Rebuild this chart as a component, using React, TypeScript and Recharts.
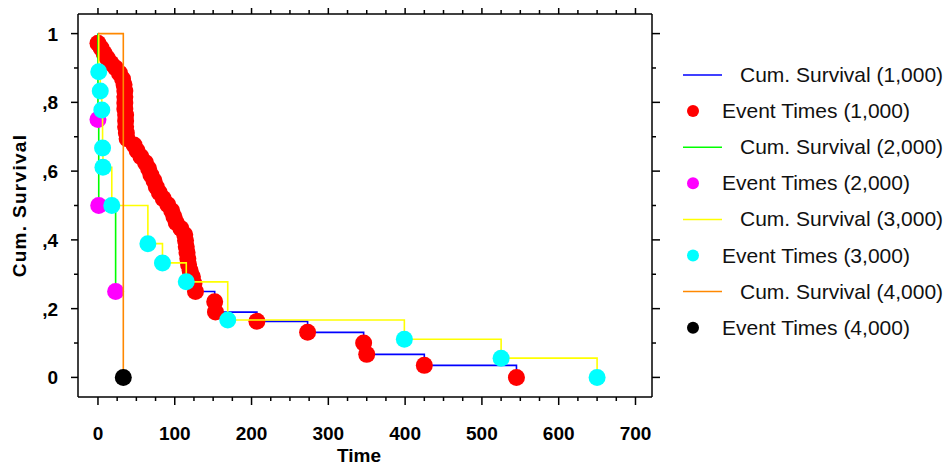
import React from 'react';
import { ComposedChart, Line, Scatter, XAxis, YAxis } from 'recharts';

// Kaplan-Meier steps, one group per pair of arrays
const time1 = [0, 0, 4, 8, 12, 17, 23, 28, 32, 34, 35, 35, 35, 35, 36, 36, 36, 37, 38, 47, 51, 56, 62, 66, 69, 73, 76, 80, 85, 91, 96, 99, 102, 108, 113, 114, 115, 116, 117, 118, 120, 123, 125, 127, 152, 153, 207, 273, 346, 350, 425, 545];
const surv1 = [1, 0.972, 0.958, 0.943, 0.929, 0.914, 0.9, 0.885, 0.868, 0.851, 0.833, 0.816, 0.798, 0.781, 0.763, 0.746, 0.729, 0.711, 0.694, 0.676, 0.659, 0.642, 0.624, 0.607, 0.589, 0.572, 0.554, 0.537, 0.52, 0.502, 0.485, 0.467, 0.45, 0.433, 0.415, 0.398, 0.38, 0.363, 0.345, 0.328, 0.311, 0.293, 0.273, 0.25, 0.22, 0.19, 0.163, 0.131, 0.1, 0.067, 0.035, 0];

const time2 = [0, 0, 1, 23];
const surv2 = [1, 0.75, 0.5, 0.25];

const time3 = [0, 1, 3, 5, 6, 6.5, 18, 65, 84, 115, 169, 399, 525, 650];
const surv3 = [1, 0.889, 0.833, 0.778, 0.667, 0.611, 0.5, 0.389, 0.333, 0.278, 0.167, 0.111, 0.056, 0];

const time4 = [0, 33];
const surv4 = [1, 0];

const groupNames = ['1,000', '2,000', '3,000', '4,000'];
const lineColors = ['#0000ff', '#00ff00', '#ffff00', '#ff8800'];
const dotColors = ['#ff0000', '#ff00ff', '#00ffff', '#000000'];

const xTicks = [0, 25, 50, 75, 100, 125, 150, 175, 200, 225, 250, 275, 300, 325, 350, 375, 400, 425, 450, 475, 500, 525, 550, 575, 600, 625, 650, 675, 700];
const xMajor = [0, 100, 200, 300, 400, 500, 600, 700];
const yTicks = [0, 0.1, 0.2, 0.3, 0.4, 0.5, 0.6, 0.7, 0.8, 0.9, 1];
const yMajor = [0, 0.2, 0.4, 0.6, 0.8, 1];
const yMajorLabels = ['0', ',2', ',4', ',6', ',8', '1'];

const X_DOMAIN: [number, number] = [-26, 721.5];
const Y_DOMAIN: [number, number] = [-0.057, 1.057];

const toPoints = (t: number[], s: number[]) => t.map((v, i) => ({ t: v, s: s[i] }));
const groups = [
	toPoints(time1, surv1),
	toPoints(time2, surv2),
	toPoints(time3, surv3),
	toPoints(time4, surv4),
];

const labelFont = "'Liberation Sans', Arial, sans-serif";

const isMajorX = (v: number) => xMajor.includes(v);
const majorYIndex = (v: number) => yMajor.findIndex((m) => Math.abs(m - v) < 1e-6);

function BottomTick(props: any) {
	const { x, y, payload } = props;
	const major = isMajorX(payload.value);
	return (
		<g>
			<line x1={x} x2={x} y1={y} y2={y + (major ? 8 : 4)} stroke="#000" strokeWidth={1.5} />
			{major && (
				<text x={x} y={y + 43} textAnchor="middle" fontFamily={labelFont} fontWeight="bold" fontSize={19} fill="#000">
					{payload.value}
				</text>
			)}
		</g>
	);
}

function TopTick(props: any) {
	const { x, y, payload } = props;
	const major = isMajorX(payload.value);
	return <line x1={x} x2={x} y1={y} y2={y - (major ? 6 : 4)} stroke="#000" strokeWidth={1.5} />;
}

function LeftTick(props: any) {
	const { x, y, payload } = props;
	const idx = majorYIndex(payload.value);
	return (
		<g>
			<line x1={x - (idx >= 0 ? 7 : 4)} x2={x} y1={y} y2={y} stroke="#000" strokeWidth={1.5} />
			{idx >= 0 && (
				<text x={x - 20} y={y + 7} textAnchor="end" fontFamily={labelFont} fontWeight="bold" fontSize={19} fill="#000">
					{yMajorLabels[idx]}
				</text>
			)}
		</g>
	);
}

function RightTick(props: any) {
	const { x, y, payload } = props;
	const idx = majorYIndex(payload.value);
	return <line x1={x} x2={x + (idx >= 0 ? 8 : 4)} y1={y} y2={y} stroke="#000" strokeWidth={1.5} />;
}

function dotShape(color: string) {
	return (p: any) => <circle cx={p.cx} cy={p.cy} r={8.5} fill={color} />;
}

function LegendBox() {
	const rows: { kind: 'line' | 'dot'; color: string; label: string }[] = [];
	groupNames.forEach((g, i) => {
		rows.push({ kind: 'line', color: lineColors[i], label: `Cum. Survival (${g})` });
		rows.push({ kind: 'dot', color: dotColors[i], label: `Event Times (${g})` });
	});
	return (
		<svg width={289} height={320} style={{ position: 'absolute', left: 660, top: 40 }}>
			{rows.map((r, i) => {
				const cy = 35 + i * 36.1;
				return (
					<g key={i}>
						{r.kind === 'line' ? (
							<line x1={23} x2={62} y1={cy} y2={cy} stroke={r.color} strokeWidth={1.5} />
						) : (
							<circle cx={33} cy={cy} r={6} fill={r.color} />
						)}
						<text x={r.kind === 'line' ? 80 : 62} y={cy + 7} fontFamily={labelFont} fontSize={21} fill="#111">
							{r.label}
						</text>
					</g>
				);
			})}
		</svg>
	);
}

export default function App() {
	return (
		<div style={{ position: 'absolute', left: 0, top: 0, width: 949, height: 469, background: '#fff' }}>
			<ComposedChart width={949} height={469} margin={{ top: 13, right: 296, bottom: 0, left: 0 }}>
				<XAxis
					dataKey="t"
					type="number"
					domain={X_DOMAIN}
					allowDataOverflow
					ticks={xTicks}
					interval={0}
					height={72}
					tickSize={0}
					tickMargin={0}
					tickLine={false}
					axisLine={{ stroke: '#000', strokeWidth: 1.5 }}
					tick={<BottomTick />}
					label={{ value: 'Time', position: 'insideBottom', offset: 7, dx: -6, fontFamily: labelFont, fontWeight: 'bold', fontSize: 19, fill: '#000' }}
				/>
				<XAxis
					xAxisId="top"
					orientation="top"
					dataKey="t"
					type="number"
					domain={X_DOMAIN}
					allowDataOverflow
					ticks={xTicks}
					interval={0}
					height={1}
					tickSize={0}
					tickMargin={0}
					tickLine={false}
					axisLine={{ stroke: '#000', strokeWidth: 1.5 }}
					tick={<TopTick />}
				/>
				<YAxis
					dataKey="s"
					type="number"
					domain={Y_DOMAIN}
					allowDataOverflow
					ticks={yTicks}
					interval={0}
					width={78}
					tickSize={0}
					tickMargin={0}
					tickLine={false}
					axisLine={{ stroke: '#000', strokeWidth: 1.5 }}
					tick={<LeftTick />}
					label={{ value: 'Cum. Survival', angle: -90, position: 'insideLeft', offset: 19, fontFamily: labelFont, fontWeight: 'bold', fontSize: 19, letterSpacing: 1.3, fill: '#000', style: { textAnchor: 'middle' } }}
				/>
				<YAxis
					yAxisId="right"
					orientation="right"
					dataKey="s"
					type="number"
					domain={Y_DOMAIN}
					allowDataOverflow
					ticks={yTicks}
					interval={0}
					width={1}
					tickSize={0}
					tickMargin={0}
					tickLine={false}
					axisLine={{ stroke: '#000', strokeWidth: 1.5 }}
					tick={<RightTick />}
				/>
				{/* invisible series so the top and right frame axes get drawn */}
				<Line
					xAxisId="top"
					yAxisId="right"
					data={groups[3]}
					dataKey="s"
					stroke="none"
					dot={false}
					activeDot={false}
					isAnimationActive={false}
				/>
				{/* series drawn in group order: each line sits above the earlier groups' dots */}
				{groups.flatMap((data, i) => [
					<Line
						key={`line${i}`}
						data={data}
						dataKey="s"
						type="stepAfter"
						stroke={lineColors[i]}
						strokeWidth={1.6}
						dot={false}
						activeDot={false}
						isAnimationActive={false}
						zIndex={610 + i * 10}
					/>,
					<Scatter
						key={`dots${i}`}
						data={data.slice(1)}
						dataKey="s"
						fill={dotColors[i]}
						shape={dotShape(dotColors[i])}
						isAnimationActive={false}
						zIndex={615 + i * 10}
					/>,
				])}
			</ComposedChart>
			<LegendBox />
		</div>
	);
}
